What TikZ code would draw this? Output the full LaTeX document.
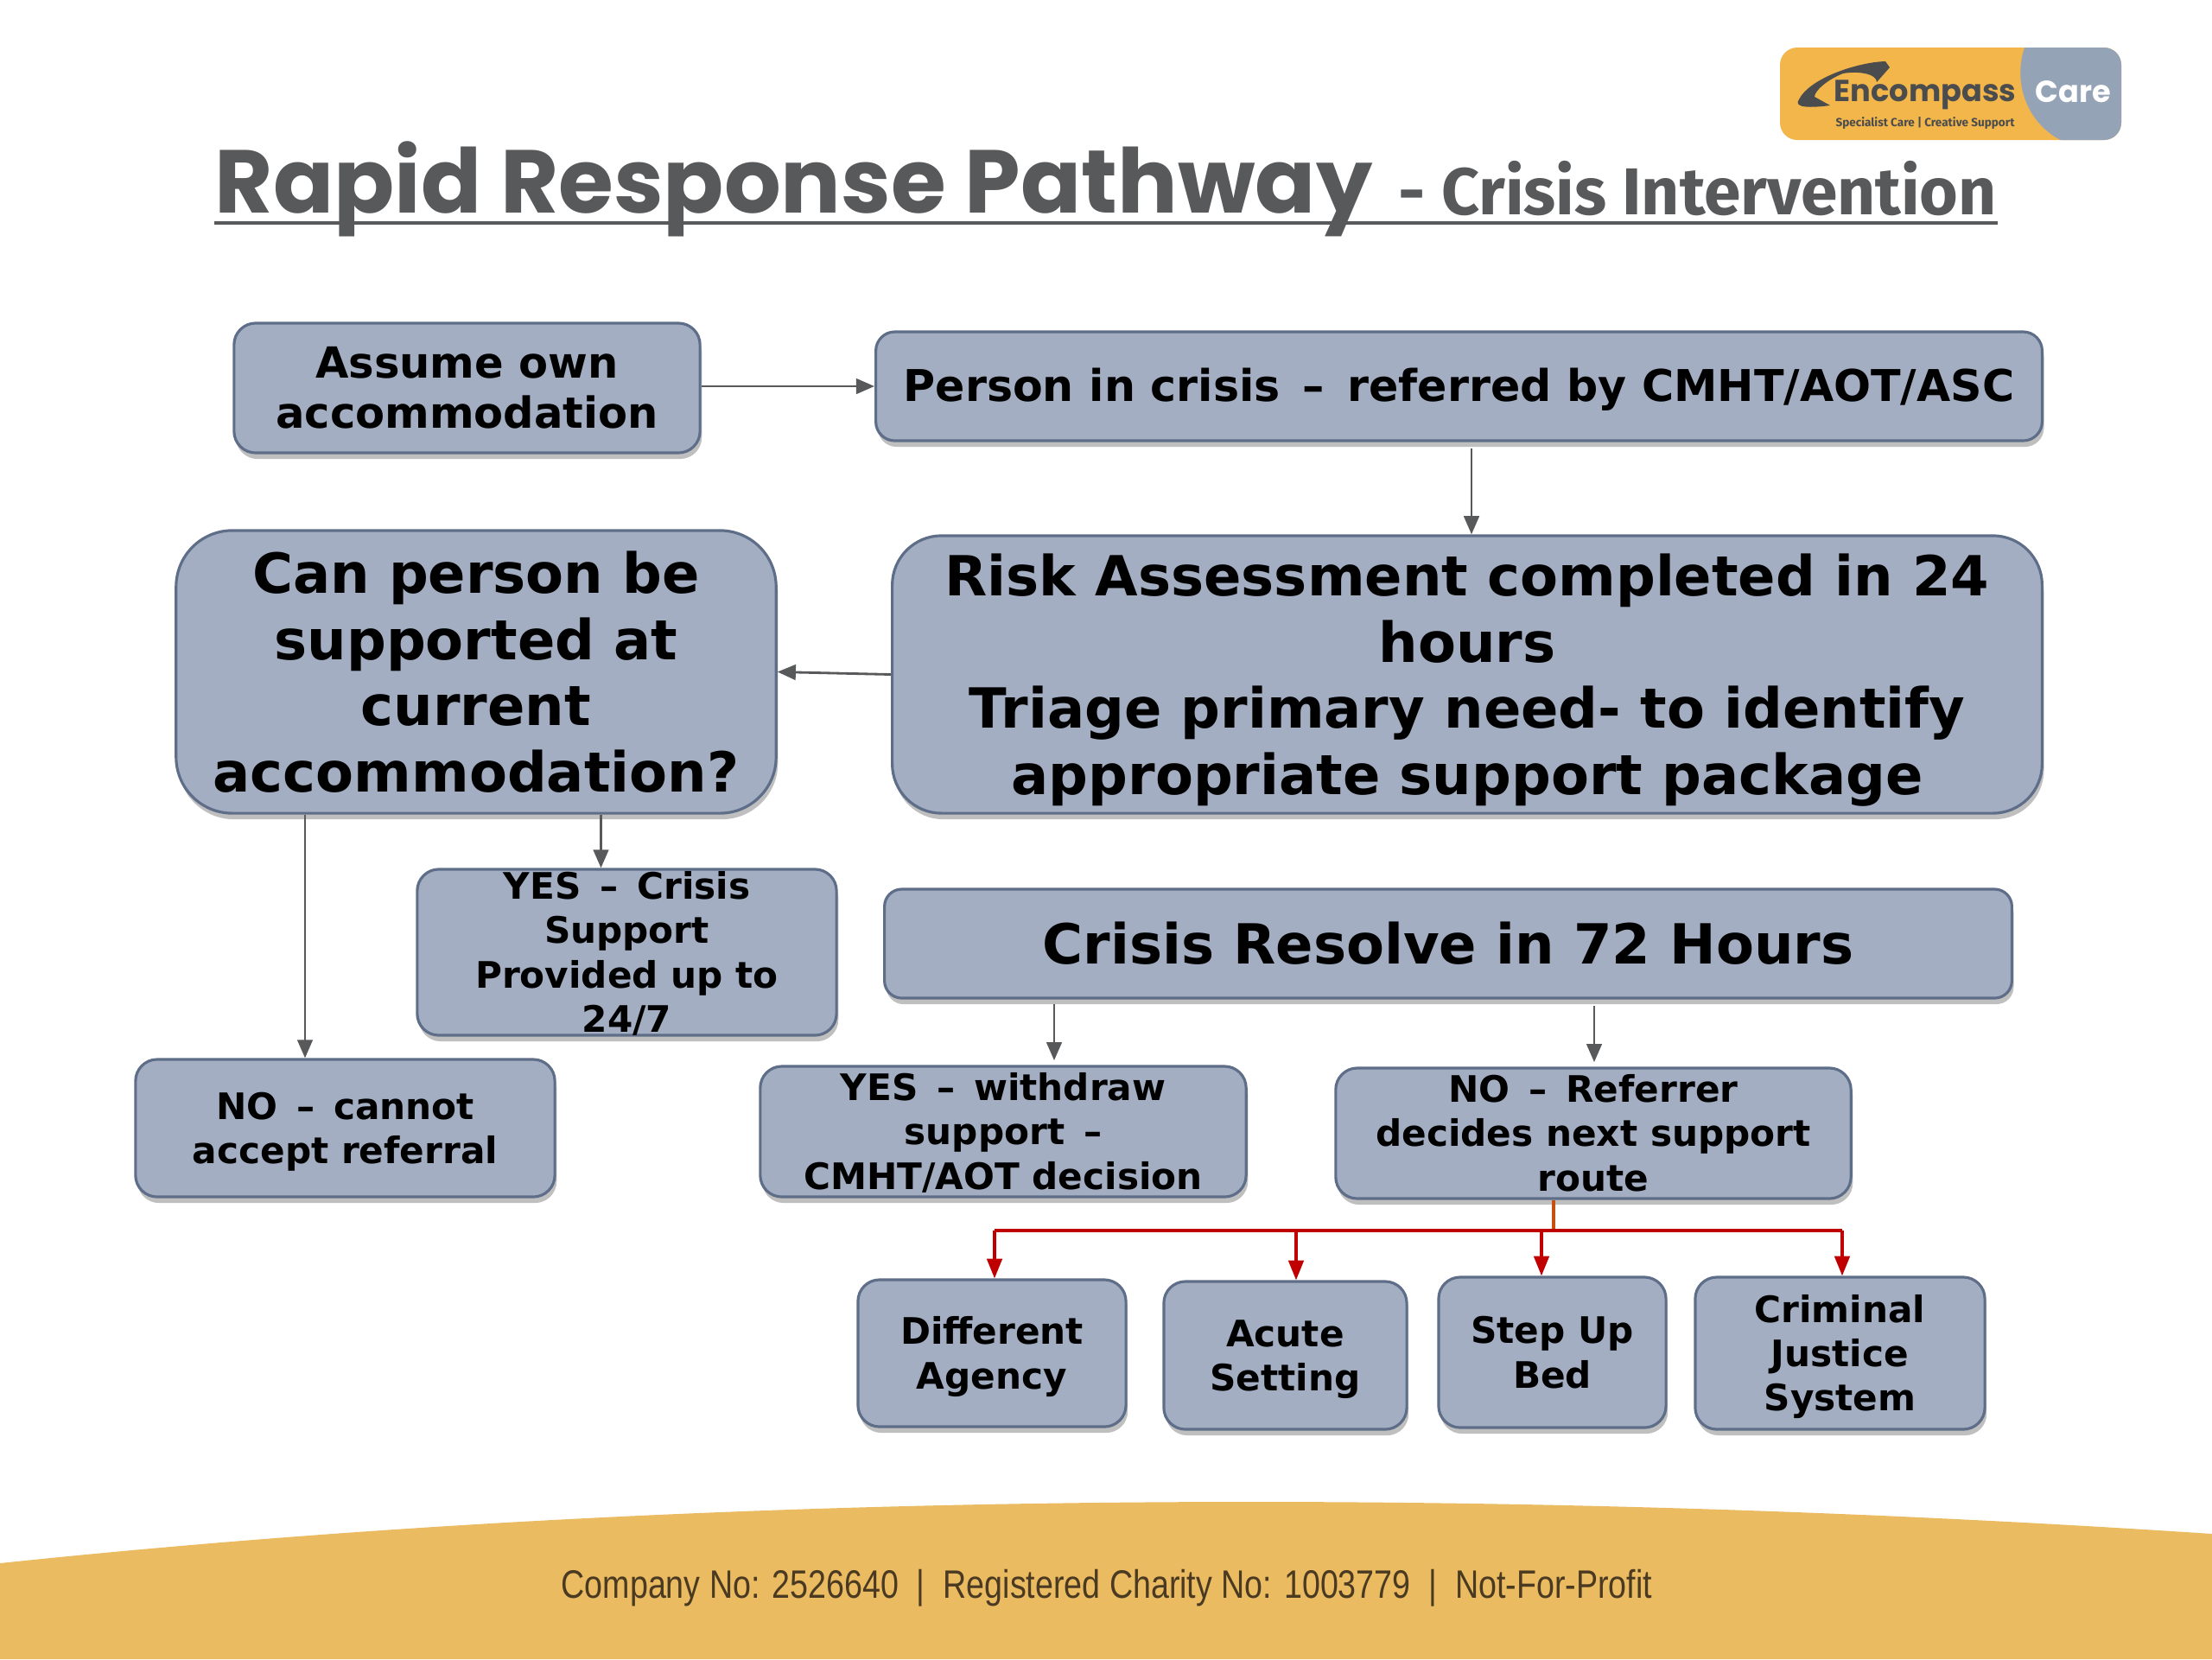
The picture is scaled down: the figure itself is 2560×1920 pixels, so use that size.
\documentclass[tikz,border=0pt]{standalone}
\usepackage{fontspec}
\setmainfont{DejaVu Sans}
\newfontfamily\titlefont{Poppins}
\newfontfamily\subfont{Fira Sans}
\newfontfamily\footfont[FakeStretch=0.82]{Liberation Sans}
\usetikzlibrary{arrows.meta,shadows}

\definecolor{boxfill}{HTML}{A3AEC2}
\definecolor{boxedge}{HTML}{5F6E88}
\definecolor{inkgrey}{HTML}{58595B}
\definecolor{footink}{HTML}{4A3A22}
\definecolor{bandorange}{HTML}{EBBB62}
\definecolor{logoorange}{HTML}{F2B64B}
\definecolor{logogrey}{HTML}{95A3B7}
\definecolor{redline}{HTML}{C00000}
\definecolor{trunkline}{HTML}{C8500F}

\newcommand{\tightlines}[1]{\smash{\raisebox{-0.37em}{\begin{tabular}[c]{@{}c@{}}#1\end{tabular}}}}
\newcommand{\widedash}{\ \kern.17em--\kern.17em\ }

\tikzset{
  flowbox/.style={draw=boxedge, line width=0.9pt, fill=boxfill, inner sep=0pt,
    font=\bfseries, text=black, align=center,
    drop shadow={shadow xshift=0.6pt, shadow yshift=-2pt, opacity=0.25, fill=black}},
  bigtext/.style={font=\fontsize{18.2}{21.8}\bfseries\selectfont},
  midtext/.style={font=\fontsize{14.1}{16.7}\bfseries\selectfont},
  widetext/.style={font=\fontsize{14.4}{16.7}\bfseries\selectfont},
  smalltext/.style={font=\fontsize{12}{14.6}\bfseries\selectfont},
  flow/.style={draw=inkgrey, line width=0.8pt, -{Triangle[length=6pt,width=5pt]}},
  redflow/.style={draw=redline, line width=0.9pt, -{Triangle[length=6.5pt,width=5pt]}},
}

\begin{document}
\begin{tikzpicture}[x=0.01cm, y=-0.01cm]
  \useasboundingbox (0,0) rectangle (2560,1920);
  \fill[white] (0,0) rectangle (2560,1920);

  % footer band
  \fill[bandorange] (0,1809) .. controls (800,1725) and (1700,1718) .. (2560,1775)
    -- (2560,1920) -- (0,1920) -- cycle;
  \node[text=footink, font=\fontsize{13.05}{15}\footfont\selectfont] (footer) at (1281,1838)
    {Company No: 2526640\ \ |\ \ Registered Charity No: 1003779\ \ |\ \ Not-For-Profit};

  % logo
  \begin{scope}
    \fill[logoorange, rounded corners=0.2cm] (2060,55) rectangle (2455,162);
    \clip[rounded corners=0.2cm] (2060,55) rectangle (2455,162);
    \fill[logogrey] (2343,55) .. controls (2328,100) and (2350,145) .. (2385,162)
      -- (2455,162) -- (2455,55) -- cycle;
  \end{scope}
  \fill[inkgrey!85!black] (2118,122) .. controls (2095,125) and (2075,125) .. (2082,115)
    .. controls (2095,90) and (2150,72) .. (2182,71)
    -- (2187,78) -- (2172,95)
    .. controls (2172,85) and (2150,82) .. (2133,85)
    .. controls (2115,92) and (2100,105) .. (2100,112) -- cycle;
  \node[text=inkgrey!85!black, font=\fontsize{10}{12}\titlefont\bfseries\selectfont] (logoname) at (2228,110) {Encompass};
  \node[text=inkgrey!85!black, font=\fontsize{3.85}{5}\subfont\bfseries\selectfont] (logotag) at (2228,143) {Specialist Care | Creative Support};
  \node[text=white, font=\fontsize{10}{12}\titlefont\bfseries\selectfont] (logocare) at (2399,106) {Care};

  % title
  \node[anchor=base west, inner sep=0pt, text=inkgrey, font=\fontsize{29.4}{34}\titlefont\bfseries\selectfont] (titlemain) at (248,246) {Rapid Response Pathway};
  \node[anchor=base west, inner sep=0pt, text=inkgrey, font=\fontsize{21.8}{24}\subfont\bfseries\selectfont] (titlesub) at (1618,248) {- Crisis Intervention};
  \coordinate (rulestart) at (248,258);
  \coordinate (ruleend) at (2312,258);
  \draw[inkgrey, line width=1pt] (rulestart) -- (ruleend);

  % boxes
  \node[flowbox, midtext, rounded corners=0.25cm, minimum width=5.39cm, minimum height=1.5cm] (assume) at (540.5,449) {\tightlines{Assume own\\accommodation}};
  \node[flowbox, widetext, rounded corners=0.22cm, minimum width=13.49cm, minimum height=1.26cm] (person) at (1688.5,447) {\tightlines{Person in crisis\widedash referred by CMHT/AOT/ASC}};
  \node[flowbox, bigtext, rounded corners=0.65cm, minimum width=6.94cm, minimum height=3.27cm] (canperson) at (551,777.5) {\tightlines{Can person be\\supported at\\current\\accommodation?}};
  \node[flowbox, bigtext, rounded corners=0.57cm, minimum width=13.3cm, minimum height=3.21cm] (risk) at (1698,780.5) {\tightlines{Risk Assessment completed in 24\\hours\\Triage primary need- to identify\\appropriate support package}};
  \node[flowbox, smalltext, rounded corners=0.25cm, minimum width=4.85cm, minimum height=1.92cm] (yessupport) at (725.5,1102) {\tightlines{YES\widedash Crisis\\Support\\Provided up to\\24/7}};
  \node[flowbox, bigtext, rounded corners=0.2cm, minimum width=13.04cm, minimum height=1.26cm] (resolve) at (1676,1092) {\tightlines{Crisis Resolve in 72 Hours}};
  \node[flowbox, smalltext, rounded corners=0.25cm, minimum width=4.85cm, minimum height=1.59cm] (nocannot) at (399.5,1305.5) {\tightlines{NO\widedash cannot\\accept referral}};
  \node[flowbox, smalltext, rounded corners=0.25cm, minimum width=5.62cm, minimum height=1.51cm] (yeswithdraw) at (1161,1309.5) {\tightlines{YES\widedash withdraw\\support \kern.17em--\\CMHT/AOT decision}};
  \node[flowbox, smalltext, rounded corners=0.25cm, minimum width=5.96cm, minimum height=1.51cm] (noreferrer) at (1844,1311.5) {\tightlines{NO\widedash Referrer\\decides next support\\route}};
  \node[flowbox, smalltext, rounded corners=0.25cm, minimum width=3.1cm, minimum height=1.7cm] (agency) at (1148,1566) {\tightlines{Different\\Agency}};
  \node[flowbox, smalltext, rounded corners=0.25cm, minimum width=2.81cm, minimum height=1.71cm] (acute) at (1487.5,1568.5) {\tightlines{Acute\\Setting}};
  \node[flowbox, smalltext, rounded corners=0.25cm, minimum width=2.63cm, minimum height=1.74cm] (stepup) at (1796.5,1565) {\tightlines{Step Up\\Bed}};
  \node[flowbox, smalltext, rounded corners=0.25cm, minimum width=3.35cm, minimum height=1.76cm] (justice) at (2129.5,1566) {\tightlines{Criminal\\Justice\\System}};

  % grey arrows
  \coordinate (xpersonrisk) at (1703,0);
  \coordinate (xcanyes) at (695.5,0);
  \coordinate (xcanno) at (353,0);
  \coordinate (xresyes) at (1220,0);
  \coordinate (xresno) at (1845,0);
  \draw[flow] (assume.east |- person.west) -- (person.west);
  \draw[flow, shorten <=2pt] (person.south -| xpersonrisk) -- (risk.north -| xpersonrisk);
  \draw[flow] (risk.west) -- (canperson.east);
  \draw[flow] (canperson.south -| xcanyes) -- (yessupport.north -| xcanyes);
  \draw[flow] (canperson.south -| xcanno) -- (nocannot.north -| xcanno);
  \draw[flow, shorten <=1.5pt, shorten >=1.5pt] (resolve.south -| xresyes) -- (yeswithdraw.north -| xresyes);
  \draw[flow, shorten <=2pt, shorten >=1.5pt] (resolve.south -| xresno) -- (noreferrer.north -| xresno);

  % red branches
  \coordinate (xtrunk) at (1798,0);
  \coordinate (busleft) at (1151,1424);
  \coordinate (busright) at (2132,1424);
  \coordinate (xacute) at (1500,0);
  \coordinate (xstep) at (1784,0);
  \draw[trunkline, line width=0.9pt] (noreferrer.south -| xtrunk) -- (busleft -| xtrunk);
  \draw[redline, line width=1.1pt] (busleft) -- (busright);
  \draw[redflow] (busleft) -- (agency.north -| busleft);
  \draw[redflow] (busleft -| xacute) -- (acute.north -| xacute);
  \draw[redflow] (busleft -| xstep) -- (stepup.north -| xstep);
  \draw[redflow] (busright) -- (justice.north -| busright);
\end{tikzpicture}
\end{document}
